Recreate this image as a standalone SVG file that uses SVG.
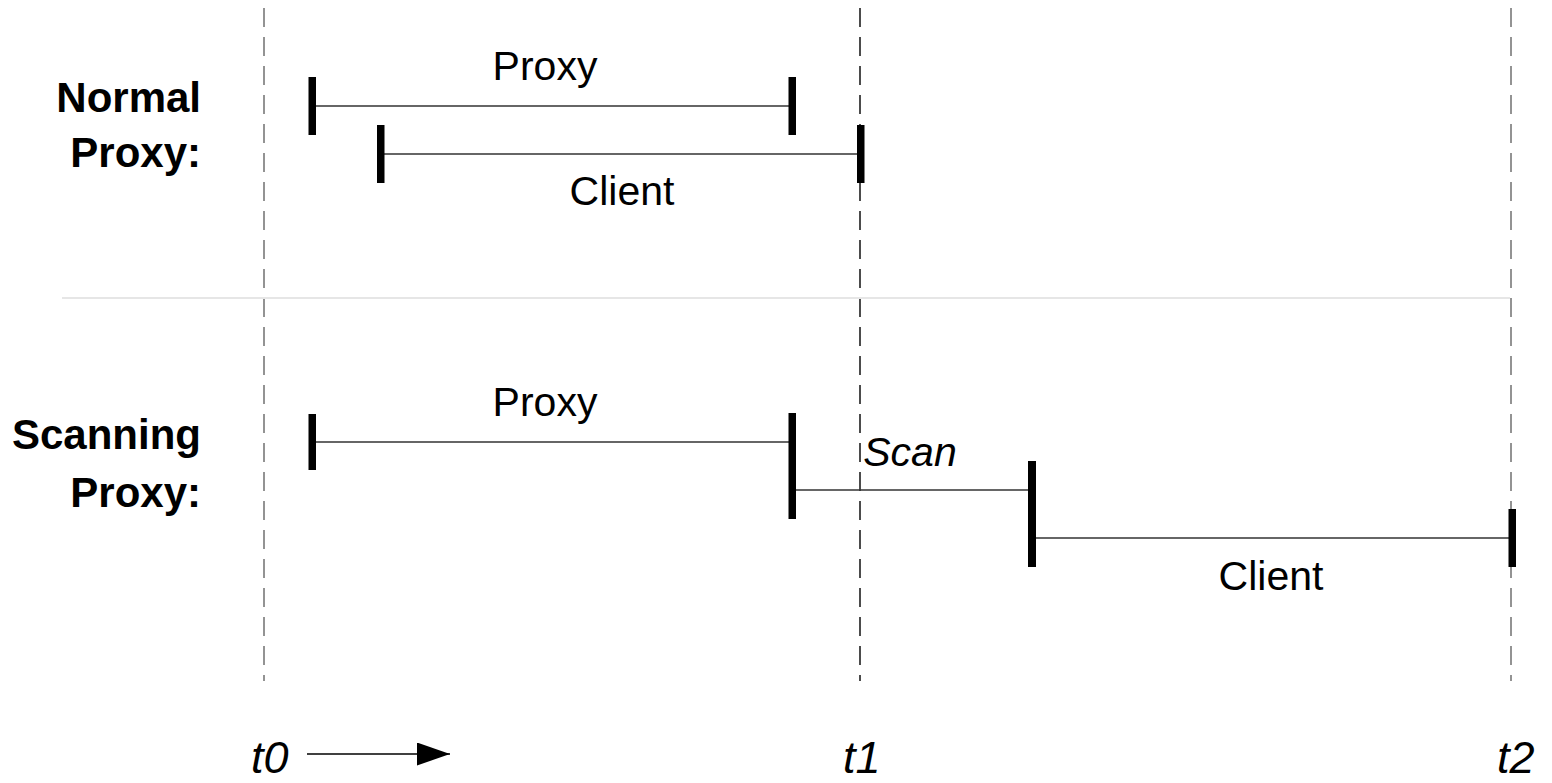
<svg xmlns="http://www.w3.org/2000/svg" width="1552" height="783" viewBox="0 0 1552 783">
  <defs>
    <style>
      .guide { fill: none; stroke-width: 1.4; stroke-dasharray: 19 10; }
      .span { stroke: #333; stroke-width: 1.3; fill: none; }
      .tick { fill: #000; }
      .lbl { font-family: "Liberation Sans", Arial, sans-serif; font-size: 41px; fill: #000; }
      .row { font-family: "Liberation Sans", Arial, sans-serif; font-size: 42px; font-weight: bold; fill: #000; text-anchor: end; }
      .time { font-family: "Liberation Sans", Arial, sans-serif; font-size: 45px; font-style: italic; fill: #000; }
    </style>
    <marker id="arrow" viewBox="0 0 33 23" refX="33" refY="11.5" markerWidth="33" markerHeight="23" markerUnits="userSpaceOnUse" orient="auto">
      <path d="M0,0 L33,11.5 L0,23 Z" fill="#000"/>
    </marker>
  </defs>

  <rect width="1552" height="783" fill="#fff"/>

  <!-- time guides -->
  <g id="guides">
    <line class="guide" x1="264" y1="8" x2="264" y2="681" stroke="#666"/>
    <line class="guide" x1="860" y1="8" x2="860" y2="681" stroke="#000"/>
    <line class="guide" x1="1511" y1="8" x2="1511" y2="681" stroke="#666"/>
    <line x1="62" y1="298" x2="1510" y2="298" stroke="#e6e6e6" stroke-width="2"/>
  </g>

  <!-- row titles -->
  <g id="row-normal">
    <text class="row" x="201" y="112">Normal</text>
    <text class="row" x="201" y="167">Proxy:</text>
  </g>
  <g id="row-scanning">
    <text class="row" x="201" y="449">Scanning</text>
    <text class="row" x="201" y="507">Proxy:</text>
  </g>

  <!-- intervals -->
  <g id="connectors">
    <line class="span" x1="312" y1="106" x2="792" y2="106"/>
    <line class="span" x1="380" y1="154" x2="860" y2="154"/>
    <line class="span" x1="312" y1="442" x2="792" y2="442"/>
    <line class="span" x1="792" y1="490" x2="1032" y2="490"/>
    <line class="span" x1="1032" y1="538" x2="1512" y2="538"/>
    <line x1="307" y1="754" x2="450" y2="754" stroke="#000" stroke-width="1.3" marker-end="url(#arrow)"/>
  </g>

  <g id="normal-proxy">
    <rect class="tick" x="308.5" y="77" width="7.5" height="58"/>
    <rect class="tick" x="788.5" y="77" width="7.5" height="58"/>
    <text class="lbl" x="545" y="80" text-anchor="middle">Proxy</text>
  </g>
  <g id="normal-client">
    <rect class="tick" x="377" y="125" width="7.5" height="58"/>
    <rect class="tick" x="857" y="125" width="7.5" height="58"/>
    <text class="lbl" x="622" y="205" text-anchor="middle">Client</text>
  </g>

  <g id="scan-proxy">
    <rect class="tick" x="308.5" y="414" width="7.5" height="56"/>
    <rect class="tick" x="788.5" y="413" width="7.5" height="106"/>
    <text class="lbl" x="545" y="416" text-anchor="middle">Proxy</text>
  </g>
  <g id="scan-scan">
    <rect class="tick" x="1028" y="461" width="8" height="106"/>
    <text class="lbl" x="910" y="466" text-anchor="middle" font-style="italic">Scan</text>
  </g>
  <g id="scan-client">
    <rect class="tick" x="1508.5" y="509" width="7.5" height="58"/>
    <text class="lbl" x="1271" y="590" text-anchor="middle">Client</text>
  </g>

  <!-- time labels -->
  <g id="time-axis">
    <text class="time" x="251" y="773">t0</text>
    <text class="time" x="843" y="773">t1</text>
    <text class="time" x="1497" y="773">t2</text>
  </g>
</svg>
